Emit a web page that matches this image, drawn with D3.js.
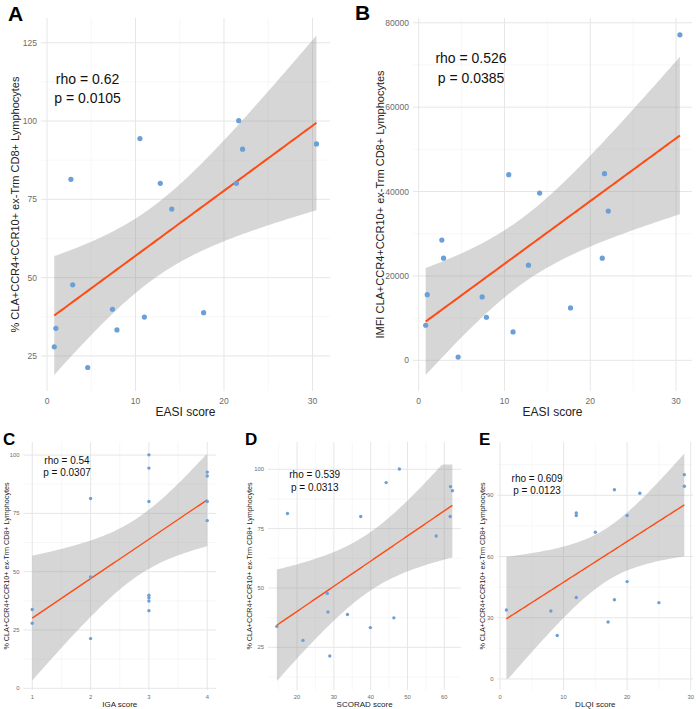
<!DOCTYPE html>
<html><head><meta charset="utf-8">
<script src="https://cdn.jsdelivr.net/npm/d3@7"></script>
<style>body{margin:0;background:#fff}svg{display:block}</style>
</head><body>
<script>
// ---- data (one entry per patient, same order in every array) ----
const pct    = [27.9, 33.8, 81.4, 47.7, 21.3, 39.9, 33.3, 94.4, 37.4, 80.1, 71.9, 38.8, 80.1, 100.1, 91.0, 92.7];
const easi   = [0.82, 1.0, 2.7, 2.9, 4.6, 7.4, 7.9, 10.5, 11.0, 12.8, 14.1, 17.7, 21.4, 21.66, 22.1, 30.45];
const imfi   = [8310, 15570, 28490, 24210, 780, 15030, 10210, 43990, 6720, 22550, 39640, 12410, 24210, 44230, 35370, 77150];
const iga    = [1, 1, 2, 2, 2, 3, 3, 3, 3, 3, 4, 3, 4, 3, 4, 4];
const scorad = [21.6, 14.5, 17.4, 28.2, 28.9, 28.4, 39.9, 44.2, 46.3, 37.3, 57.8, 33.7, 61.6, 47.8, 62.2, 61.7];
const dlqi   = [17, 1, 12, 20, 9, 12, 8, 29, 25, 12, 15, 18, 20, 29, 22, 18];

const statsRho = ["0.62", "0.526", "0.54", "0.539", "0.609"];
const statsP   = ["0.0105", "0.0385", "0.0307", "0.0313", "0.0123"];
const letters  = ["A", "B", "C", "D", "E"];
const xTitles  = ["EASI score", "EASI score", "IGA score", "SCORAD score", "DLQI score"];
const yTitles  = ["% CLA+CCR4+CCR10+ ex-Trm CD8+ Lymphocytes",
                  "IMFI CLA+CCR4+CCR10+ ex-Trm CD8+ Lymphocytes",
                  "% CLA+CCR4+CCR10+ ex-Trm CD8+ Lymphocytes",
                  "% CLA+CCR4+CCR10+ ex-Trm CD8+ Lymphocytes",
                  "% CLA+CCR4+CCR10+ ex-Trm CD8+ Lymphocytes"];
const xTicksA = [0, 10, 20, 30], yTicksA = [25, 50, 75, 100, 125];
const yTicksB = [0, 20000, 40000, 60000, 80000];
const xTicksC = [1, 2, 3, 4], yTicksC = [0, 25, 50, 75, 100];
const xTicksD = [20, 30, 40, 50, 60], yTicksD = [25, 50, 75, 100];
const xTicksE = [0, 10, 20, 30], yTicksE = [0, 30, 60, 90];

// ---- layout ----
const big = {ptR:2.6, lw:2, tickFs:8.5, titleFs:12, ylabFs:11, annFs:14, letterFs:21};
const small = {ptR:1.7, lw:1.4, tickFs:5.8, titleFs:8, ylabFs:7.2, annFs:10, letterFs:17};
const panels = [
  {i:0, xs:easi, ys:pct,  xr:[41,330],    yr:[391,18],  xd:[-0.68,31.98], yd:[13.8,132.9], xt:xTicksA, yt:yTicksA,
   st:big, letter:[8,21], ylabX:15, ann:[87.5,84,103], xtY:403.5, xtitleY:415.5},
  {i:1, xs:easi, ys:imfi, xr:[413,692],   yr:[391,18],  xd:[-0.66,31.86], yd:[-7270,81130], xt:xTicksA, yt:yTicksB,
   st:big, letter:[355,20], ylabX:380, ann:[471,63,83], xtY:403.5, xtitleY:415.5},
  {i:2, xs:iga, ys:pct,   xr:[23.5,216],  yr:[690,442], xd:[0.85,4.15], yd:[-0.73,105.6], xt:xTicksC, yt:yTicksC,
   st:small, letter:[3,445], ylabX:6, ann:[67,464,476.3], xtY:699, xtitleY:707, clampHi:100.5},
  {i:3, xs:scorad, ys:pct,xr:[268,461.2], yr:[690,442], xd:[12.1,64.6], yd:[7.0,111.5], xt:xTicksD, yt:yTicksD,
   st:small, letter:[245,445], ylabX:249.5, ann:[314.7,478.3,490.7], xtY:699, xtitleY:707, clampHi:102},
  {i:4, xs:dlqi, ys:pct,  xr:[497.5,693.2], yr:[690,442], xd:[-0.4,30.4], yd:[-5.4,116.1], xt:xTicksE, yt:yTicksE,
   st:small, letter:[479,445], ylabX:482.7, ann:[537,482.3,494], xtY:699, xtitleY:707, clampLo:0}
];

const FONT = "'Liberation Sans', Arial, Helvetica, sans-serif";
const svg = d3.select("body").append("svg").attr("width",696).attr("height",709)
  .style("font-family", FONT);

// t quantile (0.975, df=14)
const T975 = 2.144787;

function fit(xs, ys){
  const n = xs.length, mx = d3.mean(xs), my = d3.mean(ys);
  let sxx=0, sxy=0;
  for(let k=0;k<n;k++){ sxx += (xs[k]-mx)**2; sxy += (xs[k]-mx)*(ys[k]-my); }
  const b = sxy/sxx, a = my - b*mx;
  let sse=0; for(let k=0;k<n;k++){ sse += (ys[k]-a-b*xs[k])**2; }
  const s = Math.sqrt(sse/(n-2));
  const [x0,x1] = d3.extent(xs);
  const pts = d3.range(80).map(j=>{
    const x = x0 + (x1-x0)*j/79, yh = a+b*x;
    const se = s*Math.sqrt(1/n + (x-mx)**2/sxx);
    return {x, y:yh, lo:yh-T975*se, hi:yh+T975*se};
  });
  return pts;
}

function minorTicks(t, d){
  const step = t[1]-t[0], out=[];
  for(let v=t[0]-step/2; v<=d[1]; v+=step){ if(v>=d[0]) out.push(v); }
  return out;
}

panels.forEach(p=>{
  const g = svg.append("g");
  const x = d3.scaleLinear().domain(p.xd).range(p.xr);
  const y = d3.scaleLinear().domain(p.yd).range(p.yr);
  const st = p.st;
  const [L,R] = p.xr, [B,T] = p.yr;

  // grid
  const grid = g.append("g");
  minorTicks(p.xt, p.xd).forEach(v=>grid.append("line").attr("x1",x(v)).attr("x2",x(v)).attr("y1",T).attr("y2",B)
     .attr("stroke","#f2f2f2").attr("stroke-width",0.6));
  minorTicks(p.yt, p.yd).forEach(v=>grid.append("line").attr("y1",y(v)).attr("y2",y(v)).attr("x1",L).attr("x2",R)
     .attr("stroke","#f2f2f2").attr("stroke-width",0.6));
  p.xt.forEach(v=>grid.append("line").attr("x1",x(v)).attr("x2",x(v)).attr("y1",T).attr("y2",B)
     .attr("stroke","#e6e6e6").attr("stroke-width",1));
  p.yt.forEach(v=>grid.append("line").attr("y1",y(v)).attr("y2",y(v)).attr("x1",L).attr("x2",R)
     .attr("stroke","#e6e6e6").attr("stroke-width",1));

  // smooth
  const pts = fit(p.xs, p.ys);
  const hiC = v => p.clampHi!==undefined ? Math.min(v,p.clampHi) : v;
  const loC = v => p.clampLo!==undefined ? Math.max(v,p.clampLo) : v;
  const area = d3.area().x(d=>x(d.x)).y0(d=>y(loC(d.lo))).y1(d=>y(hiC(d.hi)));
  g.append("path").attr("d", area(pts)).attr("fill","#999999").attr("fill-opacity",0.4);
  const line = d3.line().x(d=>x(d.x)).y(d=>y(d.y));
  g.append("path").attr("d", line(pts)).attr("fill","none").attr("stroke","#FF4B12").attr("stroke-width",st.lw);

  // points
  g.selectAll("circle.pt").data(p.xs.map((v,k)=>[v,p.ys[k]])).enter().append("circle")
    .attr("cx",d=>x(d[0])).attr("cy",d=>y(d[1])).attr("r",st.ptR).attr("fill","#6B9FD6");

  // tick labels
  p.xt.forEach(v=>g.append("text").attr("x",x(v)).attr("y",p.xtY).attr("text-anchor","middle")
     .attr("font-size",st.tickFs).attr("fill","#6b6b6b").text(v));
  p.yt.forEach(v=>g.append("text").attr("x",L-4).attr("y",y(v)).attr("dy","0.35em").attr("text-anchor","end")
     .attr("font-size",st.tickFs).attr("fill","#6b6b6b").text(v));

  // titles
  g.append("text").attr("x",(L+R)/2).attr("y",p.xtitleY).attr("text-anchor","middle")
    .attr("font-size",st.titleFs).attr("fill","#222").text(xTitles[p.i]);
  g.append("text").attr("transform",`translate(${p.ylabX},${(T+B)/2}) rotate(-90)`).attr("dy","0.35em")
    .attr("text-anchor","middle").attr("font-size",st.ylabFs).attr("fill","#222").text(yTitles[p.i]);

  // annotation
  g.append("text").attr("x",p.ann[0]).attr("y",p.ann[1]).attr("text-anchor","middle")
    .attr("font-size",st.annFs).attr("fill","#111").text("rho = " + statsRho[p.i]);
  g.append("text").attr("x",p.ann[0]).attr("y",p.ann[2]).attr("text-anchor","middle")
    .attr("font-size",st.annFs).attr("fill","#111").text("p = " + statsP[p.i]);

  // letter
  g.append("text").attr("x",p.letter[0]).attr("y",p.letter[1]).attr("font-size",st.letterFs)
    .attr("font-weight","bold").attr("fill","#000").text(letters[p.i]);
});
</script>
</body></html>
